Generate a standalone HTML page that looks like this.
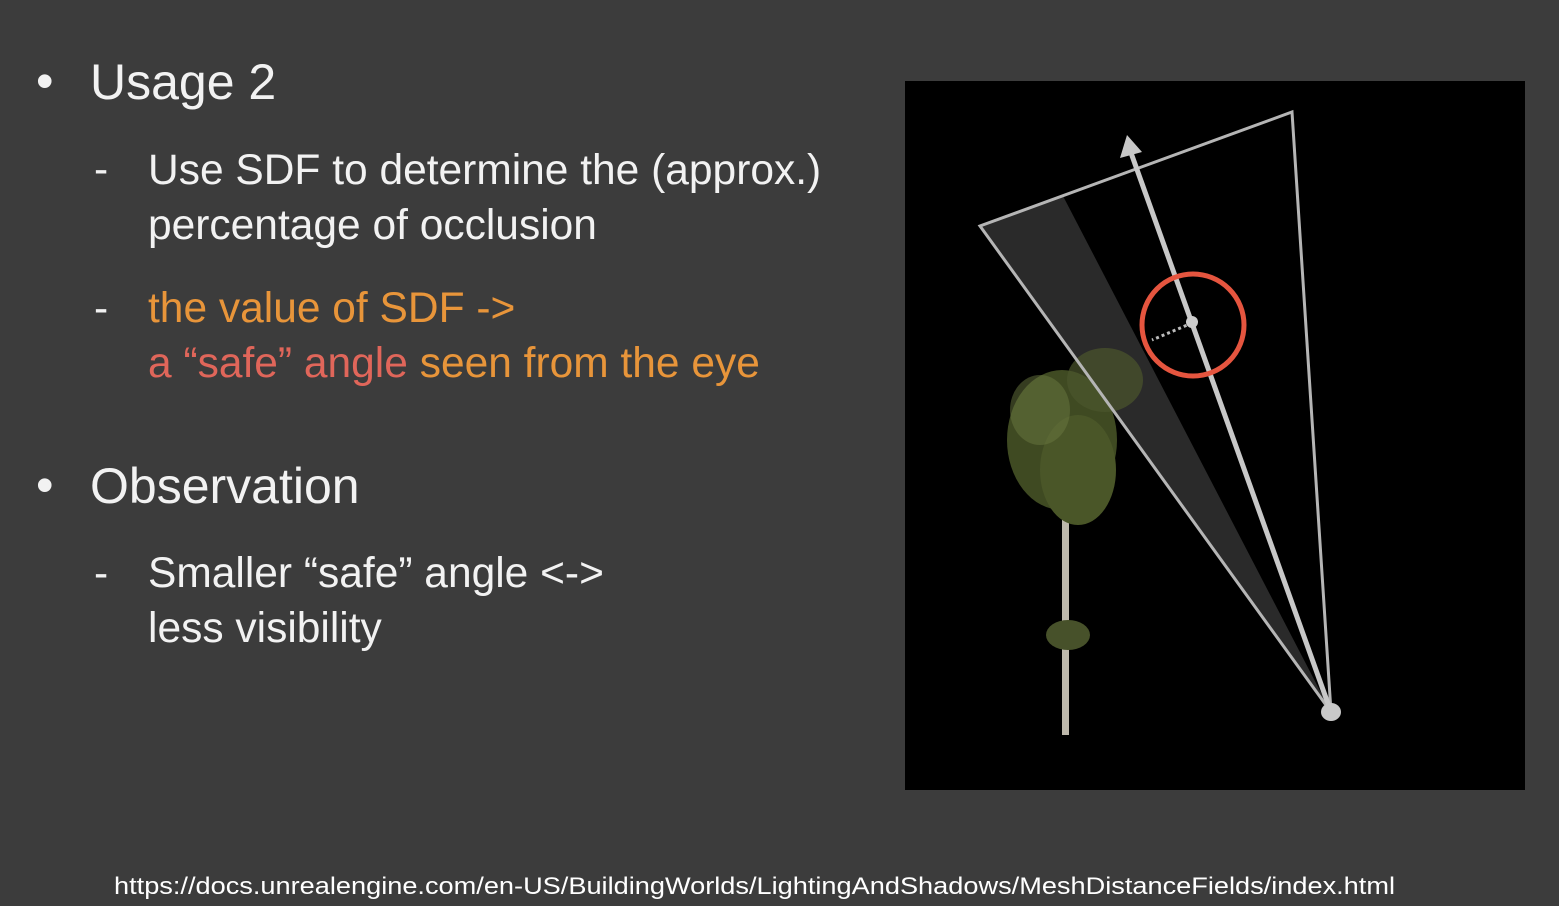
<!DOCTYPE html>
<html><head><meta charset="utf-8"><style>
html,body{margin:0;padding:0}
body{width:1559px;height:906px;background:#3c3c3c;position:relative;overflow:hidden;font-family:"Liberation Sans",Arial,sans-serif;color:#f2f2f2}
.t{position:absolute;white-space:nowrap}
.h{font-size:50px}
.s{font-size:42.5px}
</style></head><body>
<div class="t h" style="left:36px;top:52px">•</div>
<div class="t h" style="left:90px;top:53px">Usage 2</div>
<div class="t s" style="left:94px;top:146px">-</div>
<div class="t s" style="left:148px;top:143px;line-height:55px">Use SDF to determine the (approx.)<br>percentage of occlusion</div>
<div class="t s" style="left:94px;top:285px">-</div>
<div class="t s" style="left:148px;top:281px;line-height:55px;color:#e8953a">the value of SDF -&gt;<br><span style="color:#e0665a">a “safe” angle</span> seen from the eye</div>
<div class="t h" style="left:36px;top:456px">•</div>
<div class="t h" style="left:90px;top:457px">Observation</div>
<div class="t s" style="left:94px;top:550px">-</div>
<div class="t s" style="left:148px;top:546px;line-height:55px">Smaller “safe” angle &lt;-&gt;<br>less visibility</div>
<svg style="position:absolute;left:905px;top:81px" width="620" height="709" viewBox="905 81 620 709">
<rect x="905" y="81" width="620" height="709" fill="#000"/>
<polygon points="980,226 1063,196 1331,712" fill="#2a2a2a"/>
<g>
<rect x="1062" y="520" width="7" height="215" fill="#bdb8ab"/>
<ellipse cx="1062" cy="440" rx="55" ry="70" fill="#3f4a22"/>
<ellipse cx="1078" cy="470" rx="38" ry="55" fill="#4a5628"/>
<ellipse cx="1105" cy="380" rx="38" ry="32" fill="#4c552c" opacity=".7"/>
<ellipse cx="1040" cy="410" rx="30" ry="35" fill="#6a7840" opacity=".5"/>
<ellipse cx="1068" cy="635" rx="22" ry="15" fill="#47512a"/>
</g>
<polyline points="1331,712 980,226 1292,112 1331,712" fill="none" stroke="#b5b5b5" stroke-width="3"/>
<line x1="1331" y1="712" x2="1130" y2="150" stroke="#c8c8c8" stroke-width="5"/>
<polygon points="1127,135 1120,158 1142,152" fill="#c8c8c8"/>
<line x1="1192" y1="323" x2="1152" y2="340" stroke="#bbb" stroke-width="3" stroke-dasharray="3 3"/>
<circle cx="1192" cy="322" r="6" fill="#ccc"/>
<circle cx="1193" cy="325" r="51" fill="none" stroke="#e5553f" stroke-width="5"/>
<ellipse cx="1331" cy="712" rx="10" ry="9" fill="#c8c8c8"/>
</svg>
<svg style="position:absolute;left:0;top:866px" width="1559" height="40">
<text x="114" y="28" font-family="Liberation Sans, sans-serif" font-size="24" fill="#fff" textLength="1281" lengthAdjust="spacingAndGlyphs">https://docs.unrealengine.com/en-US/BuildingWorlds/LightingAndShadows/MeshDistanceFields/index.html</text>
</svg>
</body></html>
